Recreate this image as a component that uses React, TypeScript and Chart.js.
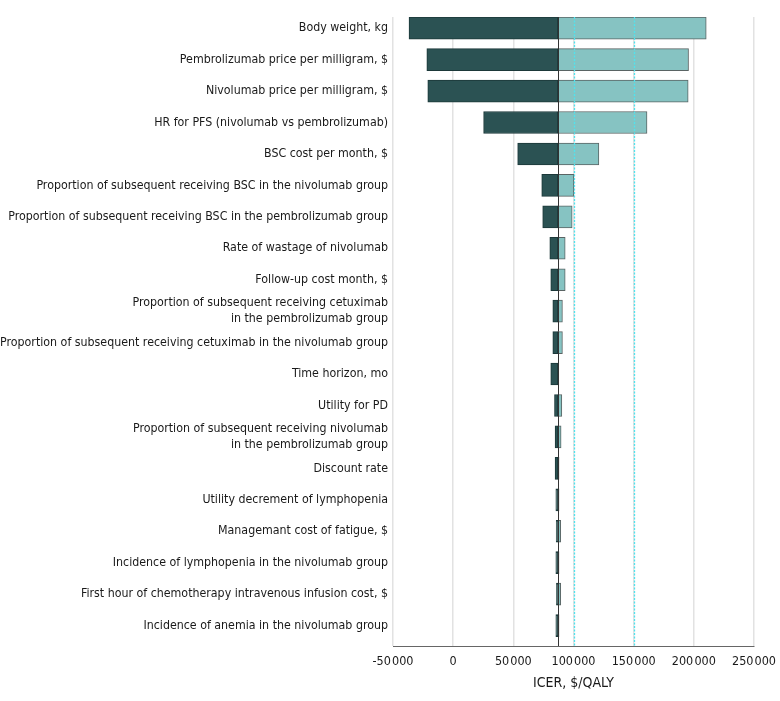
import React, { useEffect, useRef } from "react";
import { Chart, registerables } from "chart.js";

Chart.register(...registerables);

const parameters: (string | string[])[] = [
  "Body weight, kg",
  "Pembrolizumab price per milligram, $",
  "Nivolumab price per milligram, $",
  "HR for PFS (nivolumab vs pembrolizumab)",
  "BSC cost per month, $",
  "Proportion of subsequent receiving BSC in the nivolumab group",
  "Proportion of subsequent receiving BSC in the pembrolizumab group",
  "Rate of wastage of nivolumab",
  "Follow-up cost month, $",
  ["Proportion of subsequent receiving cetuximab", "in the pembrolizumab group"],
  "Proportion of subsequent receiving cetuximab in the nivolumab group",
  "Time horizon, mo",
  "Utility for PD",
  ["Proportion of subsequent receiving nivolumab", "in the pembrolizumab group"],
  "Discount rate",
  "Utility decrement of lymphopenia",
  "Managemant cost of fatigue, $",
  "Incidence of lymphopenia in the nivolumab group",
  "First hour of chemotherapy intravenous infusion cost, $",
  "Incidence of anemia in the nivolumab group",
];

const baseICER = 87000;

const lowICER = [
  -36700, -21900, -21100, 25300, 53600, 73600, 74400, 80300, 81100, 82800,
  82800, 81100, 84200, 84700, 84700, 85300, 85600, 85300, 85800, 85300,
];

const highICER = [
  210300, 195600, 195300, 161100, 121100, 100300, 98900, 93100, 93100, 90800,
  90800, 87800, 90300, 89700, 88000, 88000, 89400, 88000, 89400, 88000,
];

const xTicks = [-50000, 0, 50000, 100000, 150000, 200000, 250000];
const thresholds = [100000, 150000];

const FONT = "'DejaVu Sans Condensed', 'DejaVu Sans', sans-serif";

function fmt(v: number): string {
  if (v === 0) return "0";
  const neg = v < 0;
  const a = Math.abs(v);
  const th = Math.floor(a / 1000);
  const rest = String(a % 1000).padStart(3, "0");
  return (neg ? "-" : "") + th + "\u200A" + rest;
}

const linesPlugin = {
  id: "refLines",
  afterDatasetsDraw(chart: any) {
    const { ctx, chartArea, scales } = chart;
    const x = scales.x;
    ctx.save();
    ctx.strokeStyle = "#4fe4ee";
    ctx.lineWidth = 1.3;
    ctx.setLineDash([2, 1.5]);
    thresholds.forEach((t) => {
      const px = Math.round(x.getPixelForValue(t)) + 0.5;
      ctx.beginPath();
      ctx.moveTo(px, chartArea.top);
      ctx.lineTo(px, chartArea.bottom);
      ctx.stroke();
    });
    ctx.setLineDash([]);
    ctx.strokeStyle = "#333";
    ctx.lineWidth = 1;
    const bx = Math.round(x.getPixelForValue(baseICER)) + 0.5;
    ctx.beginPath();
    ctx.moveTo(bx, chartArea.top);
    ctx.lineTo(bx, chartArea.bottom);
    ctx.stroke();
    ctx.restore();
  },
};

export default function App() {
  const ref = useRef<HTMLCanvasElement | null>(null);

  useEffect(() => {
    if (!ref.current) return;
    const chart = new Chart(ref.current, {
      type: "bar",
      data: {
        datasets: [
          {
            label: "Low",
            data: lowICER.map((v, i) => ({ x: [v, baseICER], y: i })) as any,
            backgroundColor: "#2b5253",
            borderColor: "#1c3839",
            borderWidth: 1,
            borderSkipped: false,
            grouped: false,
            barThickness: 22,
          } as any,
          {
            label: "High",
            data: highICER.map((v, i) => ({ x: [baseICER, v], y: i })) as any,
            backgroundColor: "#86c3c2",
            borderColor: "#5a6464",
            borderWidth: 1,
            borderSkipped: false,
            grouped: false,
            barThickness: 22,
          } as any,
        ],
      },
      options: {
        indexAxis: "y",
        animation: false,
        responsive: false,
        maintainAspectRatio: false,
        layout: { padding: { left: 0, right: 26, top: 17, bottom: 0 } },
        plugins: {
          legend: { display: false },
          tooltip: { enabled: false },
        },
        scales: {
          x: {
            type: "linear",
            min: -50000,
            max: 250000,
            offset: false,
            afterBuildTicks: (scale: any) => {
              scale.ticks = xTicks.map((v) => ({ value: v }));
            },
            afterFit: (scale: any) => {
              scale.height = 55;
              scale.paddingLeft = 0;
              scale.paddingRight = 0;
            },
            grid: {
              color: "#e2e2e2",
              lineWidth: 1.5,
              drawTicks: false,
            },
            border: { display: true, color: "#666", width: 1 },
            ticks: {
              padding: 8,
              color: "#1a1a1a",
              font: { family: FONT, size: 12.5 },
              callback: (v: any) => fmt(Number(v)),
            },
            title: {
              display: true,
              text: "ICER, $/QALY",
              color: "#1a1a1a",
              font: { family: FONT, size: 14 },
              padding: { top: 0, bottom: 9 },
            },
          },
          y: {
            type: "linear",
            reverse: true,
            offset: false,
            min: -0.356,
            max: 19.65,
            afterFit: (scale: any) => {
              scale.width = 393;
            },
            grid: { display: false, drawTicks: false },
            border: { display: false },
            ticks: {
              stepSize: 1,
              includeBounds: false,
              autoSkip: false,
              padding: 5,
              color: "#1a1a1a",
              font: { family: FONT, size: 12.3, lineHeight: 1.3 },
              callback: (v: any) => {
                const n = Number(v);
                return Number.isInteger(n) && n >= 0 && n < parameters.length
                  ? parameters[n]
                  : "";
              },
            },
          },
        },
      },
      plugins: [linesPlugin],
    } as any);
    return () => chart.destroy();
  }, []);

  return (
    <div style={{ position: "absolute", left: 0, top: 0, width: 780, height: 701, background: "#fff" }}>
      <canvas ref={ref} width={780} height={701} style={{ display: "block" }} />
    </div>
  );
}
